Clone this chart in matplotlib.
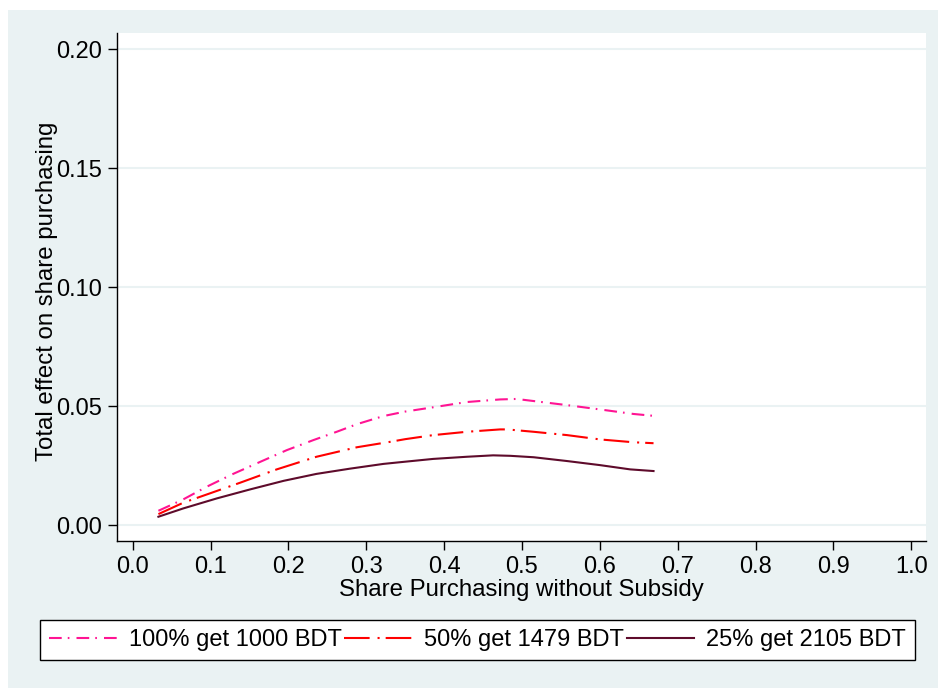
import matplotlib.pyplot as plt
from matplotlib.patches import Rectangle

plt.rcParams['font.family'] = ['Liberation Sans', 'DejaVu Sans']

# valores
x_1000 = [0.033, 0.065, 0.095, 0.129, 0.164, 0.198, 0.232, 0.262, 0.288, 0.322,
          0.350, 0.386, 0.429, 0.472, 0.493, 0.523, 0.558, 0.600, 0.643, 0.669]
y_1000 = [0.0061, 0.0109, 0.0162, 0.0216, 0.0267, 0.0316, 0.0358, 0.0393, 0.0425, 0.0459,
          0.0478, 0.0496, 0.0518, 0.0529, 0.0531, 0.0519, 0.0505, 0.0487, 0.0468, 0.0460]
x_1479 = [0.033, 0.065, 0.099, 0.138, 0.185, 0.236, 0.288, 0.331, 0.350,
          0.386, 0.429, 0.472, 0.481, 0.515, 0.558, 0.600, 0.643, 0.669]
y_1479 = [0.0047, 0.0095, 0.0134, 0.0179, 0.0235, 0.0288, 0.0328, 0.0351, 0.0362,
          0.0379, 0.0393, 0.0403, 0.0403, 0.0393, 0.0379, 0.0361, 0.0349, 0.0345]
x_2105 = [0.033, 0.065, 0.108, 0.151, 0.194, 0.236, 0.279, 0.322, 0.343,
          0.386, 0.429, 0.463, 0.485, 0.515, 0.558, 0.600, 0.639, 0.669]
y_2105 = [0.0036, 0.0071, 0.0113, 0.0151, 0.0187, 0.0216, 0.0238, 0.0258, 0.0265,
          0.0279, 0.0288, 0.0294, 0.0292, 0.0286, 0.0270, 0.0253, 0.0235, 0.0228]
etiquetas = ['100% get 1000 BDT', '50% get 1479 BDT', '25% get 2105 BDT']
xticks = [i / 10 for i in range(11)]
yticks = [0.0, 0.05, 0.10, 0.15, 0.20]

W, H = 938, 688
fig = plt.figure(figsize=(W / 100, H / 100), dpi=100, facecolor='white')
fig.patches.append(Rectangle((8 / W, 0), 1 - 8 / W, 1 - 10 / H, transform=fig.transFigure,
                             facecolor='#EAF2F3', edgecolor='none', zorder=-10))

ax = fig.add_axes([117 / W, (H - 541) / H, (926 - 117) / W, (541 - 33) / H])
ax.set_facecolor('white')

ax.plot(x_1000, y_1000, color='#FF1493', lw=1.5, linestyle=(0, (6.1, 2.9, 0.8, 3.4)), label=etiquetas[0])
ax.plot(x_1479, y_1479, color='#FF0000', lw=1.5, linestyle=(0, (12.3, 3.8, 1.0, 2.9)), label=etiquetas[1])
ax.plot(x_2105, y_2105, color='#5E0B2B', lw=1.5, label=etiquetas[2])

ax.set_xlim(-0.0202, 1.019)
ax.set_ylim(-0.0066, 0.2069)
ax.set_xticks(xticks)
ax.set_xticklabels([f'{v:.1f}' for v in xticks])
ax.set_yticks(yticks)
ax.set_yticklabels([f'{v:.2f}' for v in yticks])
ax.grid(axis='y', color='#EAF2F3', lw=1.5)
ax.set_axisbelow(True)
for s in ['top', 'right']:
    ax.spines[s].set_visible(False)
for s in ['left', 'bottom']:
    ax.spines[s].set_linewidth(1.0)
ax.tick_params(length=6.5, width=1.0, pad=4.4, labelsize=17)

ax.set_xlabel('Share Purchasing without Subsidy', fontsize=17.3)
ax.set_ylabel('Total effect on share purchasing', fontsize=17.3)
ax.xaxis.set_label_coords(0.5, -0.0748)
ax.yaxis.set_label_coords(-0.0732, 0.491)

leg = fig.legend(loc='center left', bbox_to_anchor=(40 / W, (H - 640) / H), ncol=3,
                 fontsize=17, handlelength=2.85, handletextpad=0.5, columnspacing=0.13,
                 borderaxespad=0, borderpad=0.4, fancybox=False, framealpha=1)
leg.get_frame().set_edgecolor('black')
leg.get_frame().set_linewidth(1.0)

fig.savefig('out.png', dpi=100, facecolor=fig.get_facecolor())
